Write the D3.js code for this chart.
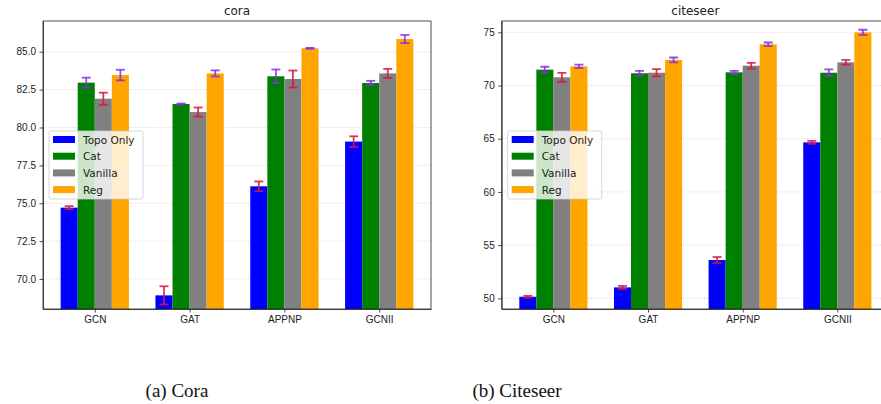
<!DOCTYPE html>
<html>
<head>
<script src="https://d3js.org/d3.v7.min.js"></script>
<style>
  body { margin: 0; background: #fff; }
  svg { display: block; font-family: "DejaVu Sans", sans-serif; }
  .axis text { font-size: 10px; fill: #222; }
  .axis path, .axis line { stroke: #222; stroke-width: 0.8px; }
  .title { font-size: 12px; fill: #222; text-anchor: middle; }
  .caption { font-family: "Liberation Serif", serif; font-size: 19px; text-anchor: middle; fill: #111; }
  .grid line { stroke: #f08080; stroke-opacity: 0.6; stroke-width: 0.8px; stroke-dasharray: 1,1.7; }
  .legend text { font-size: 10.5px; fill: #222; }
</style>
</head>
<body>
<script>
// categories and series
var models = ["GCN", "GAT", "APPNP", "GCNII"];
var methods = ["Topo Only", "Cat", "Vanilla", "Reg"];
var barColors = ["#0000ff", "#008000", "#808080", "#ffa500"];
var errColors = ["#dc143c", "#8a2be2", "#dc143c", "#8a2be2"];

// cora
var coraTopo = [74.71, 68.92, 76.12, 79.07];
var coraCat = [82.96, 81.55, 83.38, 82.94];
var coraVanilla = [81.90, 81.02, 83.20, 83.57];
var coraReg = [83.46, 83.57, 85.23, 85.84];
var coraTopoErr = [0.10, 0.60, 0.32, 0.35];
var coraCatErr = [0.33, 0.03, 0.45, 0.14];
var coraVanillaErr = [0.40, 0.30, 0.56, 0.30];
var coraRegErr = [0.35, 0.20, 0.03, 0.27];
var coraTicks = [70.0, 72.5, 75.0, 77.5, 80.0, 82.5, 85.0];

// citeseer
var citeTopo = [50.15, 51.03, 53.60, 64.66];
var citeCat = [71.49, 71.15, 71.24, 71.20];
var citeVanilla = [70.77, 71.20, 71.86, 72.18];
var citeReg = [71.80, 72.40, 73.87, 75.00];
var citeTopoErr = [0.08, 0.14, 0.28, 0.14];
var citeCatErr = [0.27, 0.23, 0.14, 0.31];
var citeVanillaErr = [0.42, 0.34, 0.27, 0.22];
var citeRegErr = [0.17, 0.23, 0.17, 0.24];
var citeTicks = [50, 55, 60, 65, 70, 75];

var barW = 0.18;

var svg = d3.select("body").append("svg")
    .attr("width", 881)
    .attr("height", 404);

function drawPanel(opt) {
  var x = d3.scaleLinear().domain([-0.546, 3.546]).range([opt.left, opt.right]);
  var y = d3.scaleLinear().domain(opt.yDomain).range([309, 21]);

  var g = svg.append("g");
  var clipId = "clip" + opt.name;
  g.append("clipPath").attr("id", clipId)
    .append("rect")
    .attr("x", opt.left).attr("y", 21)
    .attr("width", opt.right - opt.left).attr("height", 288);

  // grid
  g.append("g").attr("class", "grid")
    .selectAll("line").data(opt.ticks).enter().append("line")
    .attr("x1", opt.left).attr("x2", opt.right)
    .attr("y1", function(d) { return y(d); })
    .attr("y2", function(d) { return y(d); });

  var series = [];
  opt.values.forEach(function(vals, i) {
    vals.forEach(function(v, j) {
      series.push({m: i, c: j, v: v, e: opt.errs[i][j]});
    });
  });

  var plot = g.append("g").attr("clip-path", "url(#" + clipId + ")");

  plot.selectAll("rect.bar").data(series).enter().append("rect")
    .attr("class", "bar")
    .attr("x", function(d) { return x(d.c + (d.m - 2) * barW); })
    .attr("width", x(barW) - x(0))
    .attr("y", function(d) { return y(d.v); })
    .attr("height", function(d) { return 309 - y(d.v); })
    .attr("fill", function(d) { return barColors[d.m]; });

  // error bars
  var eb = plot.selectAll("g.err").data(series).enter().append("g")
    .attr("class", "err")
    .attr("stroke", function(d) { return errColors[d.m]; })
    .attr("stroke-width", 1.8)
    .attr("stroke-opacity", 0.85);
  function cx(d) { return x(d.c + (d.m - 1.5) * barW); }
  eb.append("line")
    .attr("x1", cx).attr("x2", cx)
    .attr("y1", function(d) { return y(d.v - d.e); })
    .attr("y2", function(d) { return y(d.v + d.e); });
  [-1, 1].forEach(function(s) {
    eb.append("line")
      .attr("x1", function(d) { return cx(d) - 4.5; })
      .attr("x2", function(d) { return cx(d) + 4.5; })
      .attr("y1", function(d) { return y(d.v + s * d.e); })
      .attr("y2", function(d) { return y(d.v + s * d.e); });
  });

  // axes
  g.append("g").attr("class", "axis")
    .attr("transform", "translate(0,309)")
    .call(d3.axisBottom(x).tickValues([0, 1, 2, 3])
      .tickFormat(function(d) { return models[d]; }).tickSize(3.5).tickPadding(3.5).tickSizeOuter(0));
  g.append("g").attr("class", "axis")
    .attr("transform", "translate(" + opt.left + ",0)")
    .call(d3.axisLeft(y).tickValues(opt.ticks)
      .tickFormat(opt.fmt).tickSize(3.5).tickPadding(3.5).tickSizeOuter(0));

  // frame
  g.append("rect")
    .attr("x", opt.left).attr("y", 21)
    .attr("width", opt.right - opt.left).attr("height", 288)
    .attr("fill", "none").attr("stroke", "#222").attr("stroke-width", 0.8);

  g.append("text").attr("class", "title")
    .attr("x", (opt.left + opt.right) / 2).attr("y", 15)
    .text(opt.name);

  // legend
  var lg = g.append("g").attr("class", "legend")
    .attr("transform", "translate(" + (opt.left + 6) + ",131)");
  lg.append("rect")
    .attr("width", 94).attr("height", 68).attr("rx", 2)
    .attr("fill", "#fff").attr("fill-opacity", 0.8)
    .attr("stroke", "#ccc").attr("stroke-width", 0.8);
  var items = lg.selectAll("g.item").data(methods).enter().append("g")
    .attr("class", "item")
    .attr("transform", function(d, i) { return "translate(4," + (5 + i * 16.7) + ")"; });
  items.append("rect")
    .attr("width", 22).attr("height", 7)
    .attr("fill", function(d, i) { return barColors[i]; });
  items.append("text")
    .attr("x", 30).attr("y", 7.5)
    .text(function(d) { return d; });

  svg.append("text").attr("class", "caption")
    .attr("x", opt.capX).attr("y", 397)
    .text(opt.caption);
}

drawPanel({
  name: "cora", left: 43, right: 431, yDomain: [68.02, 87.03],
  values: [coraTopo, coraCat, coraVanilla, coraReg],
  errs: [coraTopoErr, coraCatErr, coraVanillaErr, coraRegErr],
  ticks: coraTicks, fmt: d3.format(".1f"),
  caption: "(a) Cora", capX: 177
});

drawPanel({
  name: "citeseer", left: 501.7, right: 889, yDomain: [49.0, 76.06],
  values: [citeTopo, citeCat, citeVanilla, citeReg],
  errs: [citeTopoErr, citeCatErr, citeVanillaErr, citeRegErr],
  ticks: citeTicks, fmt: d3.format("d"),
  caption: "(b) Citeseer", capX: 517
});
</script>
</body>
</html>
